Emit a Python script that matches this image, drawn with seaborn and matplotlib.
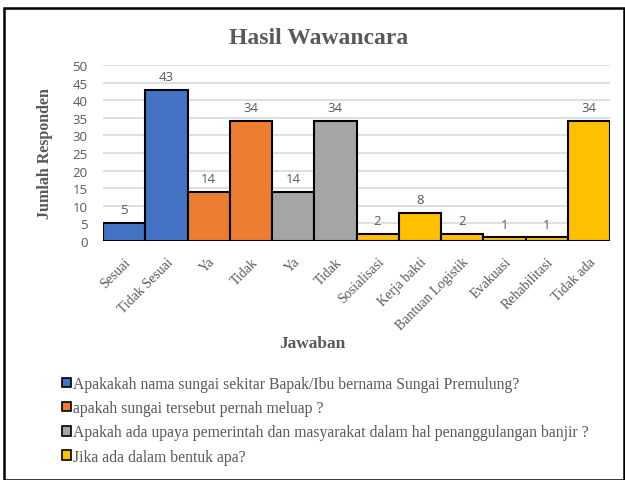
import matplotlib
matplotlib.use("Agg")
import matplotlib.pyplot as plt
import seaborn as sns
import pandas as pd
from matplotlib.patches import Rectangle

# --- data ---
jawaban = ["Sesuai", "Tidak Sesuai", "Ya", "Tidak", "Ya", "Tidak",
           "Sosialisasi", "Kerja bakti", "Bantuan Logistik", "Evakuasi",
           "Rehabilitasi", "Tidak ada"]
jumlah = [5, 43, 14, 34, 14, 34, 2, 8, 2, 1, 1, 34]
pertanyaan = [
    "Apakakah nama sungai sekitar Bapak/Ibu bernama Sungai Premulung?",
    "apakah sungai tersebut pernah meluap ?",
    "Apakah ada upaya pemerintah dan masyarakat dalam hal penanggulangan banjir ?",
    "Jika ada dalam bentuk apa?",
]
kelompok = [0, 0, 1, 1, 2, 2, 3, 3, 3, 3, 3, 3]
warna = ["#4472C4", "#ED7D31", "#A5A5A5", "#FFC000"]

GRAY = "#595959"
SERIF = ["Liberation Serif", "DejaVu Serif"]
SANS = ["Open Sans", "DejaVu Sans"]

df = pd.DataFrame({
    "pos": list(range(len(jawaban))),
    "jumlah": jumlah,
    "pertanyaan": [pertanyaan[k] for k in kelompok],
})

sns.set_style("white")
fig = plt.figure(figsize=(6.25, 4.81), dpi=100)
ax = fig.add_axes([0.1648, 0.4969, 0.8112, 0.3659])

sns.barplot(data=df, x="pos", y="jumlah", hue="pertanyaan",
            hue_order=pertanyaan, palette=warna, saturation=1, dodge=False,
            width=1.0, edgecolor="black", linewidth=1.5, ax=ax, zorder=3)

handles, labels = ax.get_legend_handles_labels()
ax.get_legend().remove()

# value labels
for i, v in enumerate(jumlah):
    ax.annotate(str(v), (i, v), xytext=(0, 5), textcoords="offset points",
                ha="center", va="bottom", fontsize=9.5, color=GRAY, family=SANS)

ax.set_ylim(0, 50)
ax.set_xlim(-0.5, len(jawaban) - 0.5)
ax.set_yticks(range(0, 51, 5))
ax.yaxis.grid(True, color="#d9d9d9", linewidth=1.2, zorder=0)
ax.set_axisbelow(True)
for s in ax.spines.values():
    s.set_visible(False)
ax.tick_params(axis="y", length=0, labelsize=9.5, labelcolor=GRAY, pad=11)
for t in ax.get_yticklabels():
    t.set_family(SANS)

ax.set_xticks(range(len(jawaban)))
ax.set_xticklabels(jawaban, rotation=45, ha="right", rotation_mode="anchor",
                   fontsize=10, color=GRAY, family=SERIF)
ax.tick_params(axis="x", length=0, pad=10)

ax.set_xlabel("")
ax.set_ylabel("Jumlah Responden", fontsize=11.5, fontweight="bold",
              color=GRAY, family=SERIF, labelpad=14)

fig.text(0.51, 1 - 38 / 481, "Hasil Wawancara", ha="center", va="center",
         fontsize=17, fontweight="bold", color=GRAY, family=SERIF)
fig.text(0.5, 1 - 344 / 481, "Jawaban", ha="center", va="center",
         fontsize=12.5, fontweight="bold", color=GRAY, family=SERIF)

leg = fig.legend(handles, labels, loc="upper left",
                 bbox_to_anchor=(0.077, 1 - 363 / 481), frameon=False,
                 handlelength=0.55, handleheight=0.55, handletextpad=0.15,
                 labelspacing=0.52, fontsize=11.3, labelcolor=GRAY)
for t in leg.get_texts():
    t.set_family(SERIF)
for h in leg.legend_handles:
    h.set_edgecolor("black")
    h.set_linewidth(1.2)

# outer chart border
fig.patches.append(Rectangle((4 / 625, 0), 1 - 5 / 625, 1 - 9 / 481,
                             transform=fig.transFigure, fill=False,
                             edgecolor="black", linewidth=1.8))

fig.savefig("out.png", dpi=100)
